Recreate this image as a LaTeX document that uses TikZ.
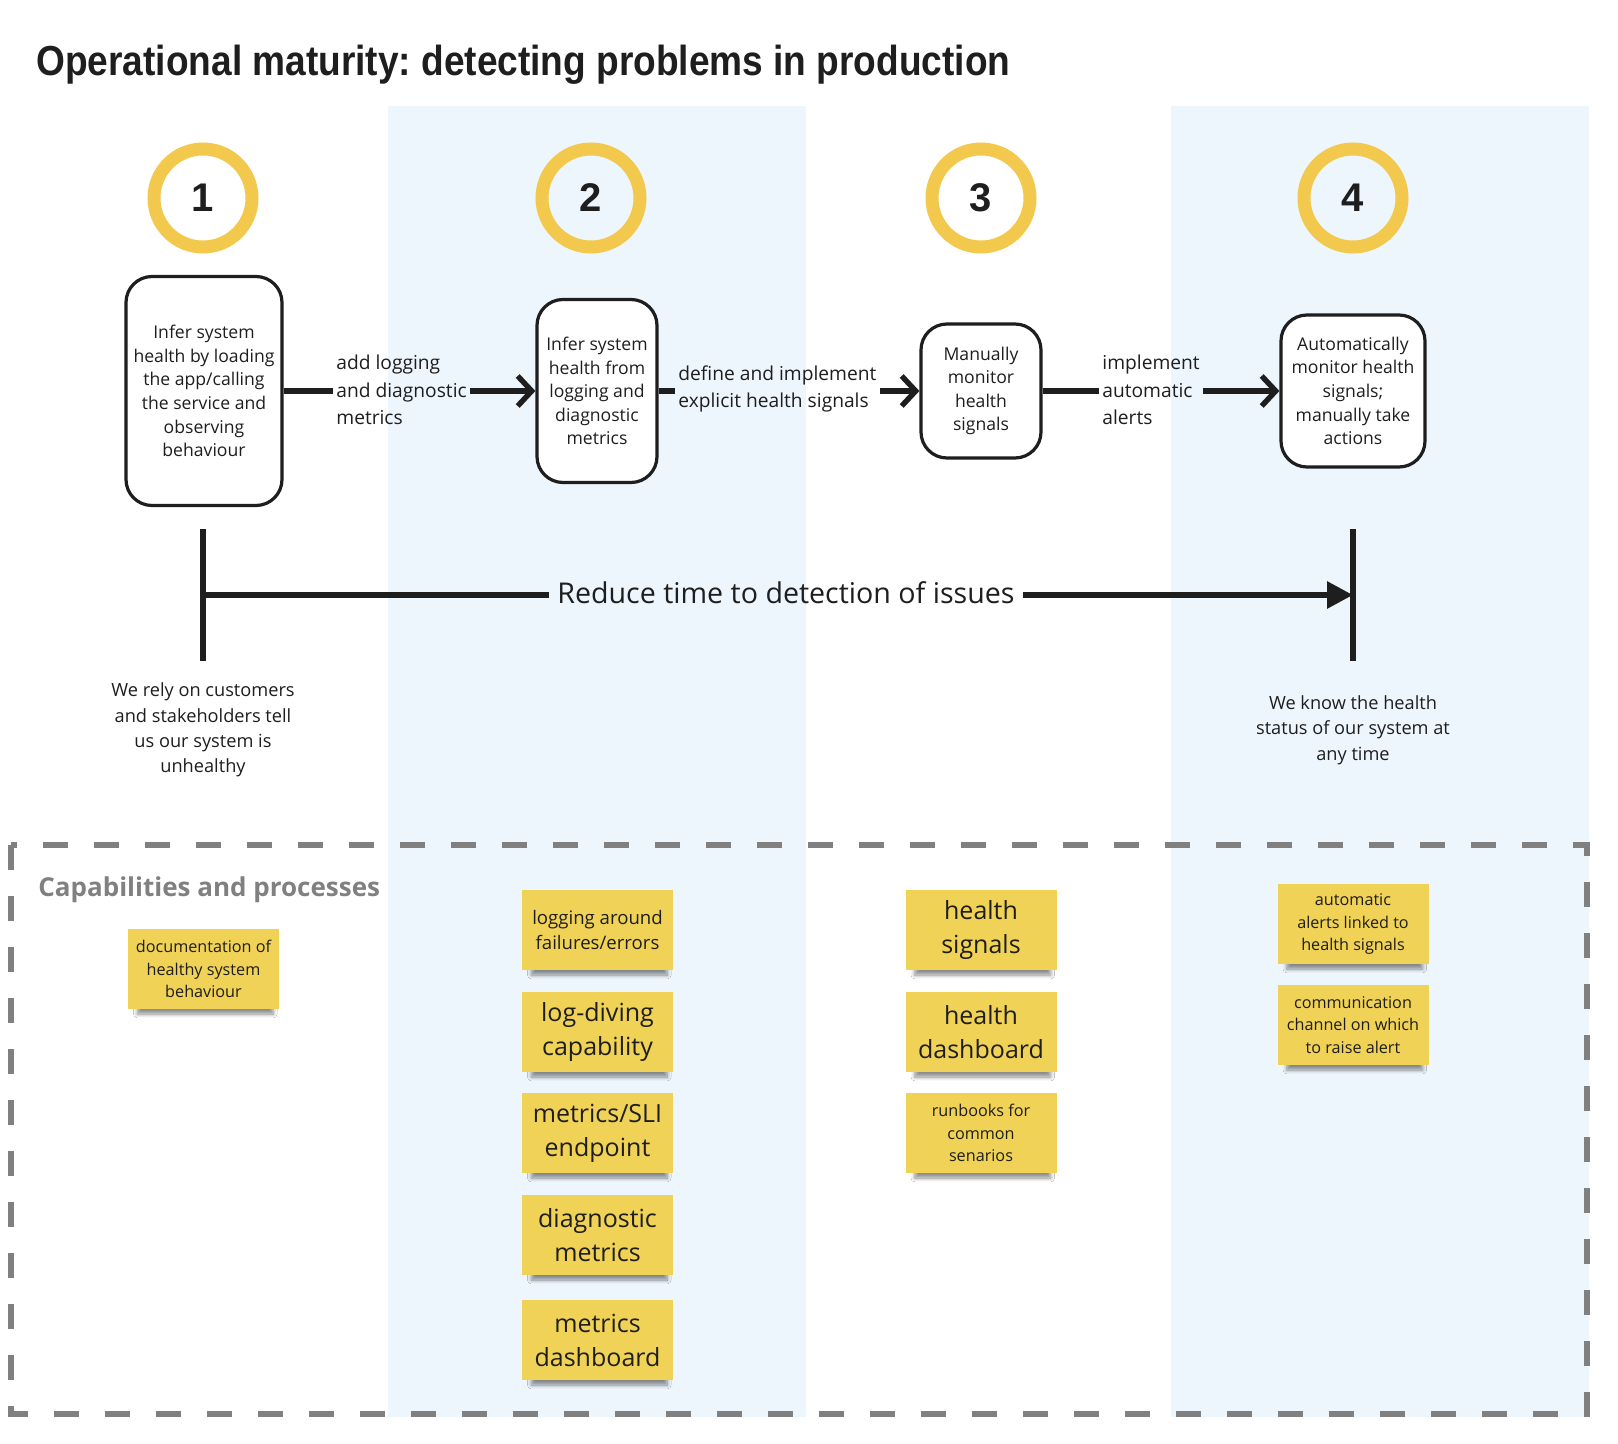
\documentclass[tikz,border=0pt]{standalone}
\usepackage{fontspec}
\usepackage{graphicx}
\setmainfont{Open Sans}
\newfontfamily\titlefont{Liberation Sans}
\usetikzlibrary{arrows.meta,shadows.blur}
\frenchspacing
\definecolor{ink}{HTML}{1E1E1E}
\definecolor{ring}{HTML}{F2C94C}
\definecolor{band}{HTML}{EEF6FD}
\definecolor{sticky}{HTML}{F0D257}
\definecolor{dashgray}{HTML}{808080}
\tikzset{
  procbox/.style={draw=ink, line width=1.6pt, rounded corners=13pt, fill=white, align=center,
    text=ink, inner sep=0pt, font=\fontsize{8.8}{11.8}\selectfont},
  steplbl/.style={align=left, text=ink, inner sep=1.5pt, font=\fontsize{9.6}{13.6}\selectfont},
  conn/.style={draw=ink, line width=2.7pt},
  barbtip/.style={-{Straight Barb[length=7pt,width=15pt]}},
  numring/.style={circle, draw=ring, line width=6.5pt, minimum size=49pt, inner sep=0pt,
    text=ink, font=\titlefont\bfseries\fontsize{20}{24}\selectfont},
  note/.style={fill=sticky, minimum width=75.5pt, minimum height=40pt, align=center, text=ink,
    inner sep=1pt,
    blur shadow={shadow xshift=1pt, shadow yshift=-5pt, shadow opacity=45, shadow scale=0.9, shadow blur steps=6}},
  noteS/.style={note, font=\fontsize{8.1}{11.1}\selectfont},
  noteM/.style={note, font=\fontsize{9.3}{12.4}\selectfont},
  noteL/.style={note, font=\fontsize{12.5}{17}\selectfont},
  endtxt/.style={align=center, text=ink, font=\fontsize{9.1}{12.7}\selectfont},
}
\begin{document}
\begin{tikzpicture}[x=0.5pt, y=-0.5pt]
\useasboundingbox (0,0) rectangle (1618,1444);
\fill[white] (0,0) rectangle (1618,1444);
% background bands
\fill[band] (388,106) rectangle (806,1417);
\fill[band] (1171,106) rectangle (1589,1417);

% title
\node[anchor=base west, inner sep=0pt, text=ink] (title) at (36,76)
  {\resizebox{487pt}{\height}{\titlefont\bfseries\fontsize{21}{24}\selectfont Operational maturity: detecting problems in production}};

% number rings
\node[numring] (c1) at (203,198) {1};
\node[numring] (c2) at (591,198) {2};
\node[numring] (c3) at (981,198) {3};
\node[numring] (c4) at (1353,198) {4};

% process boxes
\node[procbox, minimum width=78pt, minimum height=114.5pt] (b1) at (204,391)
  {Infer system\\health by loading\\the app/calling\\the service and\\observing\\behaviour};
\node[procbox, minimum width=60pt, minimum height=91.5pt] (b2) at (597,391)
  {Infer system\\health from\\logging and\\diagnostic\\metrics};
\node[procbox, minimum width=60pt, minimum height=67pt] (b3) at (981,391)
  {Manually\\monitor\\health\\signals};
\node[procbox, minimum width=72pt, minimum height=76pt] (b4) at (1353,391)
  {Automatically\\monitor health\\signals;\\manually take\\actions};

% step labels
\node[steplbl, anchor=west] (l1) at (333,390) {add logging\\and diagnostic\\metrics};
\node[steplbl, anchor=west] (l2) at (675,389) {define and implement\\explicit health signals};
\node[steplbl, anchor=west] (l3) at (1099,390) {implement\\automatic\\alerts};

\draw[conn] (b1.east) -- (l1.west |- b1.east);
\draw[conn, barbtip] (l1.east |- b2.west) -- (b2.west);
\draw[conn] (b2.east) -- (l2.west |- b2.east);
\draw[conn, barbtip] (l2.east |- b3.west) -- (b3.west);
\draw[conn] (b3.east) -- (l3.west |- b3.east);
\draw[conn, barbtip] (l3.east |- b4.west) -- (b4.west);

% timeline
\coordinate (ltop) at (203,529);
\coordinate (lbot) at (203,661);
\coordinate (rtop) at (1353,529);
\coordinate (rbot) at (1353,661);
\coordinate (lmid) at (203,595);
\coordinate (rmid) at (1353,595);
\draw[draw=ink, line width=2.6pt] (ltop) -- (lbot);
\draw[draw=ink, line width=2.6pt] (rtop) -- (rbot);
\node[text=ink, inner sep=4pt, font=\fontsize{14.3}{17}\selectfont] (goal) at (786,593) {Reduce time to detection of issues};
\draw[conn, line width=3pt] (lmid) -- (goal.west |- lmid);
\draw[conn, line width=3pt, -{Triangle[length=13pt,width=13pt]}] (goal.east |- rmid) -- (rmid);

\node[endtxt] (startdesc) at (203,730) {We rely on customers\\and stakeholders tell\\us our system is\\unhealthy};
\node[endtxt] (enddesc) at (1353,730) {We know the health\\status of our system at\\any time};

% capabilities frame
\draw[draw=dashgray, line width=3pt, dash pattern=on 12.5pt off 13pt] (11,845) rectangle (1587,1414);
\node[anchor=west, inner sep=0pt, text=dashgray, font=\bfseries\fontsize{13}{16}\selectfont] (caphead) at (38,890) {Capabilities and processes};

% stickies
\node[noteS] (s1) at (203.5,969) {documentation of\\healthy system\\behaviour};
\node[noteM] (s2a) at (597.5,930) {logging around\\failures/errors};
\node[noteL] (s2b) at (597.5,1032) {log-diving\\capability};
\node[noteL] (s2c) at (597.5,1133) {metrics/SLI\\endpoint};
\node[noteL] (s2d) at (597.5,1235) {diagnostic\\metrics};
\node[noteL] (s2e) at (597.5,1340) {metrics\\dashboard};
\node[noteL] (s3a) at (981,930) {health\\signals};
\node[noteL] (s3b) at (981,1032) {health\\dashboard};
\node[noteS] (s3c) at (981,1133) {runbooks for\\common\\senarios};
\node[noteS] (s4a) at (1353,924) {automatic\\alerts linked to\\health signals};
\node[noteS] (s4b) at (1353,1025) {communication\\channel on which\\to raise alert};
\end{tikzpicture}
\end{document}
